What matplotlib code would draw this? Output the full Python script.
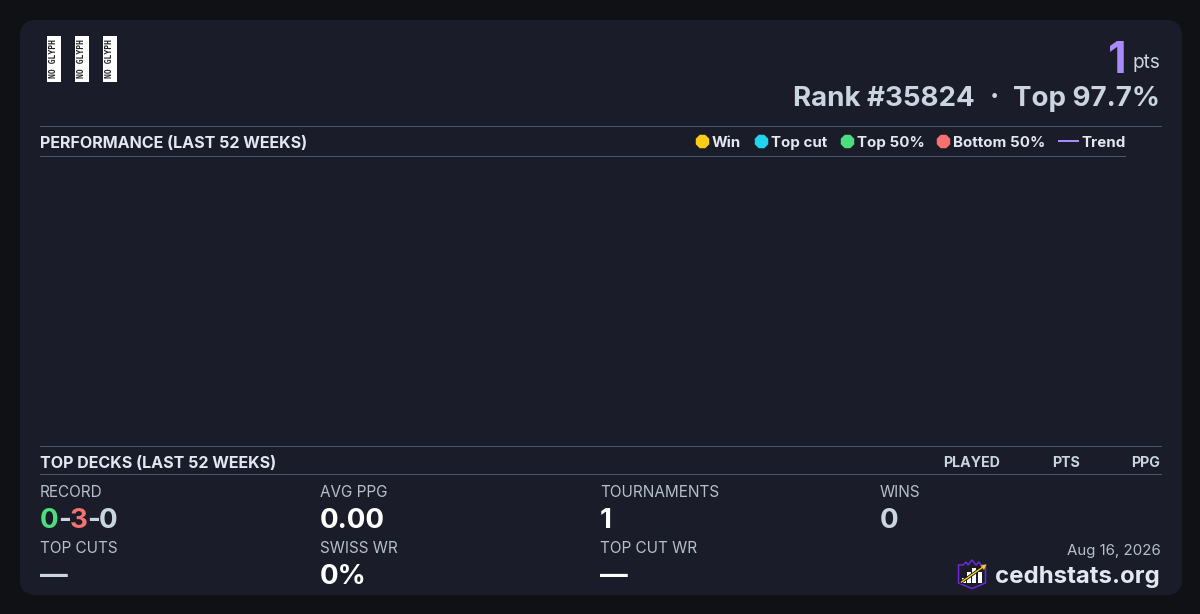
import matplotlib
matplotlib.use("Agg")
import matplotlib.pyplot as plt
from matplotlib.patches import FancyBboxPatch, Rectangle, Polygon

plt.rcParams['font.family'] = ['Inter', 'DejaVu Sans']

# text and values from the card
title_perf = "PERFORMANCE (LAST 52 WEEKS)"
title_decks = "TOP DECKS (LAST 52 WEEKS)"
legend_labels = ["Win", "Top cut", "Top 50%", "Bottom 50%"]
legend_colors = ["#facc15", "#22d3ee", "#4ade80", "#f87171"]
deck_columns = ["PLAYED", "PTS", "PPG"]
stat_labels = ["RECORD", "AVG PPG", "TOURNAMENTS", "WINS", "TOP CUTS", "SWISS WR", "TOP CUT WR"]
stat_values = ["", "0.00", "1", "0", "—", "0%", "—"]
stat_colors = ["", "#ffffff", "#ffffff", "#cbd5e1", "#cbd5e1", "#ffffff", "#ffffff"]
record = ["0", "-", "3", "-", "0"]
record_colors = ["#4ade80", "#cbd5e1", "#f87171", "#cbd5e1", "#cbd5e1"]

BG = "#0f1115"
CARD = "#1a1d29"
LINE = "#475569"
PX = 0.72  # css px to points at dpi 100

fig = plt.figure(figsize=(12, 6.14), dpi=100, facecolor=BG)
ax = fig.add_axes([0, 0, 1, 1])
ax.set_xlim(0, 1200)
ax.set_ylim(614, 0)
ax.axis('off')


def label(x, y, s, size, color, weight='normal', ha='left'):
    return ax.text(x, y, s, fontsize=size * PX, color=color, fontweight=weight,
                   ha=ha, va='baseline')


# card
ax.add_patch(FancyBboxPatch((20, 20), 1162, 575, boxstyle="round,pad=0,rounding_size=16",
                            fc=CARD, ec='none'))

# missing glyph images
for x in [46.5, 74.5, 102.5]:
    ax.add_patch(Rectangle((x, 35.5), 14.5, 46.5, fc='white', ec='none'))
    ax.text(x + 7.5, 59, "NO GLYPH", rotation=90, fontsize=5.8, color='#222222',
            fontweight='bold', ha='center', va='center', family='DejaVu Sans Mono')

# header right
label(1127, 73, "1", 43, "#a78bfa", 'bold', 'right')
label(1160, 68, "pts", 19, "#cbd5e1", 'normal', 'right')
label(975, 106, "Rank #35824", 27.7, "#cbd5e1", 'bold', 'right')
ax.text(994, 106, "·", fontsize=28 * PX, color="#cbd5e1", fontweight='bold', ha='center', va='baseline')
label(1160, 106, "Top 97.7%", 27.7, "#cbd5e1", 'bold', 'right')

# section rules
for y, x1 in [(126, 1160.5), (156, 1124.5), (446, 1160.5), (474, 1160.5)]:
    ax.plot([40, x1], [y, y], color=LINE, lw=0.72)

label(40, 148, title_perf, 16.05, "#e2e8f0", 'bold')
label(40, 468, title_decks, 16.05, "#e2e8f0", 'bold')

# legend
dot_x = [702, 761, 847, 943]
text_x = [712, 771, 857, 953]
for dx, tx, name, col in zip(dot_x, text_x, legend_labels, legend_colors):
    ax.scatter([dx], [141], s=110, color=col, linewidths=0, marker='8', zorder=3)
    label(tx, 147, name, 15.1, "#e2e8f0", 'bold')
ax.plot([1059, 1078], [141, 141], color="#a78bfa", lw=1.44)
label(1081, 147, "Trend", 15.1, "#e2e8f0", 'bold')

# deck table header
for x, name in zip([1000, 1080, 1160], deck_columns):
    label(x, 467, name, 14.2, "#cbd5e1", 'bold', 'right')

# stats grid
col_x = [40, 320, 600, 880, 40, 320, 600]
label_y = [497, 497, 497, 497, 553, 553, 553]
value_y = [528, 528, 528, 528, 584, 584, 584]
for x, ly, vy, name, val, col in zip(col_x, label_y, value_y, stat_labels, stat_values, stat_colors):
    label(x, ly, name, 15.3, "#b6bfcc")
    if val:
        label(x, vy, val, 27.7, col, 'bold')

# record is coloured piece by piece
rx = [40, 58, 70, 87, 99]
for x, s, col in zip(rx, record, record_colors):
    label(x, 528, s, 27.7, col, 'bold')

# footer
label(1161, 555, "Aug 16, 2026", 15, "#b6bfcc", 'normal', 'right')
label(1160, 583, "cedhstats.org", 24, "#e2e8f0", 'bold', 'right')

# logo
ax.add_patch(Polygon([(958.5, 565), (963, 565), (966, 562), (968, 565), (972, 560), (976, 565),
                      (979, 562), (981, 565), (985.5, 565), (985.5, 583), (972, 588.5), (958.5, 583)],
                     closed=True, fc=CARD, ec="#6d28d9", lw=1.1))
for x, top in [(962, 578), (967, 572), (972, 568), (978, 572)]:
    ax.add_patch(Rectangle((x, top), 3.6, 583 - top, fc='white', ec='none', zorder=3))
ax.plot([961.5, 983], [582, 567], color="#111111", lw=2.2, zorder=4)
ax.plot([961.5, 983], [582, 567], color="#facc15", lw=1.0, zorder=5)
ax.add_patch(Polygon([(986.5, 564.5), (980.5, 565.5), (984, 570)], closed=True, fc="#facc15", ec='none', zorder=5))

fig.savefig("out.png", dpi=100, facecolor=BG)
